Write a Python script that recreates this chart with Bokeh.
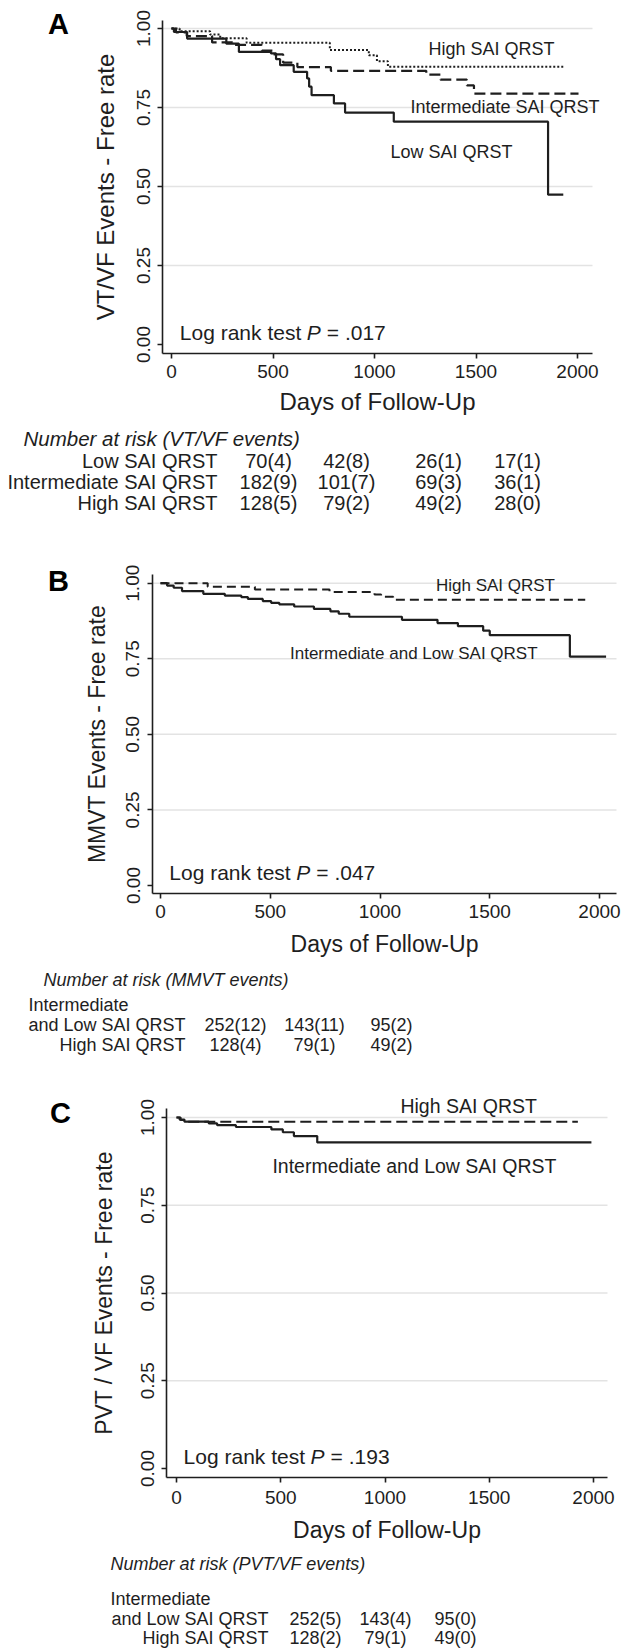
from bokeh.plotting import figure
from bokeh.models import (ColumnDataSource, FixedTicker, Label, Range1d, NumeralTickFormatter,
                          LinearAxis)
from bokeh.embed import file_html
from bokeh.resources import INLINE
from bokeh.core.properties import value

# ---------------- data ----------------
x_ticks = [0, 500, 1000, 1500, 2000]
y_ticks = [0.0, 0.25, 0.50, 0.75, 1.0]
grid_ticks = [0.25, 0.50, 0.75, 1.0]

# Panel A: VT/VF events
a_low_days = [0, 12, 77, 270, 332, 490, 515, 535, 602, 668, 678, 690, 800, 855, 1095, 1855, 1930]
a_low_surv = [1.0, 0.989, 0.968, 0.952, 0.926, 0.921, 0.903, 0.884, 0.863, 0.842, 0.816, 0.789, 0.763, 0.734, 0.705, 0.474, 0.474]
a_int_days = [0, 22, 75, 200, 300, 445, 502, 550, 620, 785, 1255, 1325, 1455, 1490, 2005]
a_int_surv = [1.0, 0.988, 0.976, 0.956, 0.948, 0.930, 0.918, 0.892, 0.878, 0.866, 0.854, 0.838, 0.820, 0.794, 0.794]
a_high_days = [0, 40, 190, 240, 370, 780, 972, 1012, 1066, 1930]
a_high_surv = [1.0, 0.991, 0.981, 0.969, 0.955, 0.932, 0.915, 0.896, 0.879, 0.879]

# Panel B: MMVT events
b_intlow_days = [0, 30, 60, 98, 195, 293, 368, 398, 466, 504, 541, 609, 699, 774, 812, 860, 1100, 1262, 1355, 1470, 1500, 1865, 2030]
b_intlow_surv = [1.0, 0.992, 0.985, 0.974, 0.965, 0.959, 0.954, 0.948, 0.941, 0.935, 0.930, 0.923, 0.915, 0.907, 0.899, 0.889, 0.879, 0.868, 0.858, 0.843, 0.828, 0.757, 0.757]
b_high_days = [0, 215, 430, 770, 975, 1005, 1060, 1935]
b_high_surv = [1.0, 0.988, 0.979, 0.971, 0.963, 0.955, 0.945, 0.945]

# Panel C: PVT/VF events
c_intlow_days = [0, 15, 38, 155, 195, 285, 455, 510, 563, 675, 1990]
c_intlow_surv = [1.0, 0.994, 0.988, 0.983, 0.978, 0.973, 0.966, 0.958, 0.947, 0.929, 0.929]
c_high_days = [0, 20, 44, 1925]
c_high_surv = [1.0, 0.993, 0.988, 0.988]

# Number-at-risk tables
a_groups = ["Low SAI QRST", "Intermediate SAI QRST", "High SAI QRST"]
a_at_risk = [[70, 42, 26, 17], [182, 101, 69, 36], [128, 79, 49, 28]]
a_events = [[4, 8, 1, 1], [9, 7, 3, 1], [5, 2, 2, 0]]

b_groups = ["and Low SAI QRST", "High SAI QRST"]
b_at_risk = [[252, 143, 95], [128, 79, 49]]
b_events = [[12, 11, 2], [4, 1, 2]]

c_groups = ["and Low SAI QRST", "High SAI QRST"]
c_at_risk = [[252, 143, 95], [128, 79, 49]]
c_events = [[5, 4, 0], [2, 1, 0]]

p_values = [".017", ".047", ".193"]

# ---------------- layout (page pixels) ----------------
FONT = "Liberation Sans"
INK = "#1e1e1e"
W, H = 635, 1648

# per panel: pixel of day 0, pixel of day 2000, pixel of surv 1.0, pixel of surv 0.0,
#            frame left, frame right, frame top, frame bottom
LAY = {
    "A": dict(x0=171, x2000=577, y1=28, y0=344, left=162, right=592, top=20, bottom=353),
    "B": dict(x0=160, x2000=599, y1=582.7, y0=885, left=152, right=616, top=574, bottom=893),
    "C": dict(x0=176, x2000=593, y1=1117, y0=1468, left=166, right=607, top=1108, bottom=1477),
}


def px_to_day(L, px):
    return (px - L["x0"]) * 2000.0 / (L["x2000"] - L["x0"])


def px_to_surv(L, py):
    return (L["y0"] - py) / (L["y0"] - L["y1"])


p = figure(width=W, height=H, x_range=Range1d(0, W), y_range=Range1d(H, 0),
           output_backend="svg", toolbar_location=None, tools="", title=None,
           min_border=0, x_axis_location=None, y_axis_location=None,
           outline_line_color=None, background_fill_color="white")
p.grid.visible = False


def style_axis(ax, label_std, tick_std, label_size):
    ax.axis_line_color = INK
    ax.axis_line_width = 1.6
    ax.major_tick_line_color = INK
    ax.major_tick_line_width = 1.6
    ax.major_tick_out = 5
    ax.major_tick_in = 0
    ax.minor_tick_out = 0
    ax.minor_tick_in = 0
    ax.major_label_text_font = FONT
    ax.major_label_text_font_size = "19px"
    ax.major_label_text_color = INK
    ax.major_label_standoff = tick_std
    ax.axis_label_text_font = FONT
    ax.axis_label_text_font_size = label_size
    ax.axis_label_text_font_style = "normal"
    ax.axis_label_text_color = INK
    ax.axis_label_standoff = label_std


def panel(key, ylabel, ylab_std, xlab_std, xtick_std, label_size):
    L = LAY[key]
    xn, yn = "x" + key, "y" + key
    p.extra_x_ranges[xn] = Range1d(px_to_day(L, 0), px_to_day(L, W))
    p.extra_y_ranges[yn] = Range1d(px_to_surv(L, H), px_to_surv(L, 0))
    x_lo, x_hi = px_to_day(L, L["left"]), px_to_day(L, L["right"])
    y_lo, y_hi = px_to_surv(L, L["bottom"]), px_to_surv(L, L["top"])

    # horizontal grid lines at the tick values
    n = len(grid_ticks)
    p.segment(x0=[x_lo] * n, x1=[x_hi] * n, y0=grid_ticks, y1=grid_ticks,
              line_color="#e3e3e3", line_width=1.5, x_range_name=xn, y_range_name=yn)

    xa = LinearAxis(x_range_name=xn, y_range_name=yn, fixed_location=y_lo,
                    bounds=(x_lo, x_hi), ticker=FixedTicker(ticks=x_ticks),
                    axis_label="Days of Follow-Up")
    style_axis(xa, xlab_std, xtick_std, label_size)
    p.add_layout(xa, "below")

    ya = LinearAxis(x_range_name=xn, y_range_name=yn, fixed_location=x_lo,
                    bounds=(y_lo, y_hi), ticker=FixedTicker(ticks=y_ticks),
                    formatter=NumeralTickFormatter(format="0.00"),
                    major_label_orientation="vertical", axis_label=ylabel)
    style_axis(ya, ylab_std, 8, label_size)
    p.add_layout(ya, "left")
    return xn, yn


def add_label(xn, yn, x, y, text, size, style="normal", x_offset=0):
    p.add_layout(Label(x=x, y=y, text=text, x_offset=x_offset, text_font=FONT,
                       text_font_size=size, text_font_style=style, text_color=INK,
                       text_align="left", text_baseline="middle",
                       x_range_name=xn, y_range_name=yn))


def add_logrank(xn, yn, x, y, pval):
    add_label(xn, yn, x, y, "Log rank test", "21px")
    add_label(xn, yn, x, y, "P", "21px", style="italic", x_offset=127)
    add_label(xn, yn, x, y, "= " + pval, "21px", x_offset=147)


def add_text(xs, ys, texts, size, align, style="normal"):
    src = ColumnDataSource(dict(x=xs, y=ys, t=texts))
    p.text(x="x", y="y", text="t", source=src, text_font=value(FONT),
           text_font_size=value(size), text_font_style=style, text_color=INK,
           text_align=align, text_baseline="middle")


def add_table(groups, at_risk, events, label_right, row_ys, col_xs, size):
    add_text([label_right] * len(groups), row_ys, groups, size, "right")
    xs, ys, ts = [], [], []
    for i, (rr, ee) in enumerate(zip(at_risk, events)):
        for j, (nv, ev) in enumerate(zip(rr, ee)):
            xs.append(col_xs[j]); ys.append(row_ys[i]); ts.append("%d(%d)" % (nv, ev))
    add_text(xs, ys, ts, size, "center")


# ---------------- Panel A ----------------
xn, yn = panel("A", "VT/VF Events - Free rate", 15, 7, 6, "24px")
p.step(a_low_days, a_low_surv, mode="after", line_color=INK, line_width=2.2,
       x_range_name=xn, y_range_name=yn)
p.step(a_int_days, a_int_surv, mode="after", line_color=INK, line_width=2.2,
       line_dash="11 5", x_range_name=xn, y_range_name=yn)
p.step(a_high_days, a_high_surv, mode="after", line_color=INK, line_width=2.0,
       line_dash="2 2", x_range_name=xn, y_range_name=yn)
add_label(xn, yn, 1266, 0.934, "High SAI QRST", "18px")
add_label(xn, yn, 1177, 0.751, "Intermediate SAI QRST", "18px")
add_label(xn, yn, 1079, 0.609, "Low SAI QRST", "18px")
add_logrank(xn, yn, 41, 0.039, p_values[0])

# ---------------- Panel B ----------------
xn, yn = panel("B", "MMVT Events - Free rate", 14, 10, 6, "23px")
p.step(b_intlow_days, b_intlow_surv, mode="after", line_color=INK, line_width=2.2,
       x_range_name=xn, y_range_name=yn)
p.step(b_high_days, b_high_surv, mode="after", line_color=INK, line_width=2.0,
       line_dash="9 5", x_range_name=xn, y_range_name=yn)
add_label(xn, yn, 1255, 0.992, "High SAI QRST", "17px")
add_label(xn, yn, 590, 0.767, "Intermediate and Low SAI QRST", "17px")
add_logrank(xn, yn, 40, 0.044, p_values[1])

# ---------------- Panel C ----------------
xn, yn = panel("C", "PVT / VF Events - Free rate", 21, 10, 8, "23px")
p.step(c_intlow_days, c_intlow_surv, mode="after", line_color=INK, line_width=2.2,
       x_range_name=xn, y_range_name=yn)
p.step(c_high_days, c_high_surv, mode="after", line_color=INK, line_width=2.0,
       line_dash="11 5", x_range_name=xn, y_range_name=yn)
add_label(xn, yn, 1074, 1.034, "High SAI QRST", "19.5px")
add_label(xn, yn, 460, 0.863, "Intermediate and Low SAI QRST", "19.5px")
add_logrank(xn, yn, 34, 0.034, p_values[2])

# ---------------- panel letters ----------------
src_letters = ColumnDataSource(dict(x=[58, 58, 60], y=[23, 580, 1112], t=["A", "B", "C"]))
p.text(x="x", y="y", text="t", source=src_letters, text_font=value(FONT),
       text_font_size=value("29px"), text_font_style="bold", text_color="#000000",
       text_align="center", text_baseline="middle")

# ---------------- number-at-risk tables ----------------
add_text([23], [438], ["Number at risk (VT/VF events)"], "20.5px", "left", "italic")
add_table(a_groups, a_at_risk, a_events, 217, [460, 481, 502], [268, 346, 438, 517], "20px")

add_text([43], [979], ["Number at risk (MMVT events)"], "18px", "left", "italic")
add_text([28], [1004], ["Intermediate"], "18px", "left")
add_table(b_groups, b_at_risk, b_events, 185, [1024, 1044], [235, 314, 391], "18px")

add_text([110], [1563], ["Number at risk (PVT/VF  events)"], "18px", "left", "italic")
add_text([110], [1598], ["Intermediate"], "18px", "left")
add_table(c_groups, c_at_risk, c_events, 268, [1618, 1637], [315, 385, 455], "18px")

open("out.html", "w").write(file_html(p, INLINE))
